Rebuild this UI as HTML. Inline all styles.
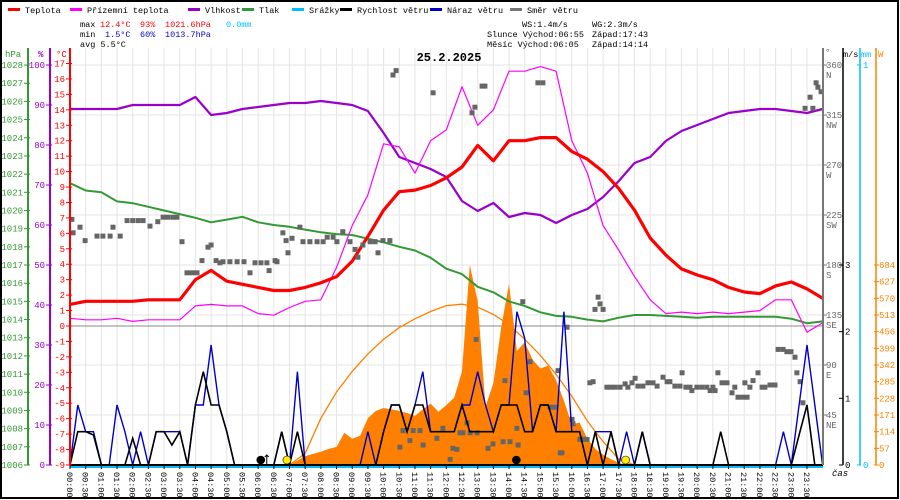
<!DOCTYPE html>
<html><head><meta charset="utf-8"><style>
html,body{margin:0;padding:0;background:#fff;}
svg{display:block;font-family:"Liberation Mono",monospace;}
</style></head><body>
<svg id="c" width="900" height="500" viewBox="0 0 900 500"></svg>
<script>
// ---- data (half-hour resolution, 00:00..24:00) ----
const temperature=[1.4,1.6,1.6,1.6,1.6,1.7,1.7,1.7,3.0,3.6,2.9,2.7,2.5,2.3,2.3,2.5,2.8,3.2,4.2,5.8,7.5,8.7,8.8,9.1,9.6,10.3,11.7,10.7,12.0,12.0,12.2,12.2,11.3,10.8,10.0,8.9,7.5,5.7,4.6,3.7,3.3,3.0,2.5,2.2,2.1,2.6,2.85,2.4,1.8];
const feelsLike=[0.5,0.4,0.4,0.5,0.3,0.4,0.4,0.4,1.3,1.4,1.3,1.3,0.8,0.7,1.2,1.6,1.7,3.8,6.5,8.5,11.8,11.6,9.9,12.0,12.7,15.5,13.0,14.0,16.5,16.5,16.8,16.5,12.0,9.9,6.5,4.9,3.2,1.7,0.8,0.9,0.8,0.9,0.8,0.9,1.0,1.7,1.7,-0.4,0.2];
const humidity=[89,89,89,89,90,90,90,90,92,87.5,88,89,89.5,90,90.5,90.5,91,90.5,90,88.5,83,77,75.5,74,72,66,63.5,65.5,62,63,62.5,60.5,62.5,64,67,71,75.5,77,81,83.5,85,86.5,88,88.5,89,89,88.5,88,89];
const pressure=[1021.5,1021.1,1021.0,1020.5,1020.4,1020.2,1020.0,1019.8,1019.6,1019.35,1019.5,1019.65,1019.35,1019.2,1019.1,1018.95,1018.8,1018.7,1018.65,1018.45,1018.25,1018.0,1017.8,1017.4,1016.8,1016.5,1015.8,1015.5,1015.0,1014.75,1014.4,1014.2,1014.15,1014.0,1013.9,1014.1,1014.25,1014.25,1014.2,1014.15,1014.1,1014.15,1014.15,1014.15,1014.15,1014.15,1014.05,1013.8,1013.9];
// theoretical sun radiation (W/m2), half-hours from index 14 (07:00) to 36 (18:00)
const sunStart=14;
const sunTheory=[0,40,160,250,320,380,430,470,500,525,545,550,540,515,480,430,375,310,235,150,80,20,0];
// measured radiation (W/m2), quarter-hours from index 28 (07:00)
const radStart=28;
const radiation=[0,15,30,38,45,55,62,110,90,100,160,185,195,190,185,178,168,190,210,182,205,230,320,684,560,200,280,470,620,390,420,360,330,340,290,220,140,145,90,55,35,20,8,0];
// wind (m/s), quarter-hours 00:00..24:00
const windSpeed=[0,0.5,0.5,0.45,0,0,0,0,0.4,0,0,0.5,0.5,0.3,0.5,0,0.9,1.4,0.9,0.9,0.5,0,0,0,0,0,0,0.5,0,0.5,0,0,0,0,0,0,0,0,0,0,0.5,0.9,0.9,0.5,0.9,0.9,0.5,0.5,0.5,0.5,0.9,0.5,0.5,0.5,0.5,0.9,0.9,0.9,0.5,0.5,0.9,0.9,0.5,0.5,0.5,0.5,0,0.5,0,0.5,0,0,0,0.5,0,0,0,0,0,0,0,0,0,0.5,0,0,0,0,0,0,0,0,0,0.45,0.9,0,0];
const windGust=[0,0.9,0.5,0.5,0,0,0.9,0.5,0,0.5,0,0.5,0.5,0.5,0.5,0,0.9,0.9,1.8,0.9,0.5,0,0,0,0,0,0,0.5,0,1.4,0,0,0,0,0,0,0,0,0.5,0,0.5,0.9,0.9,0.5,0.9,1.4,0.5,0.5,0.5,0.5,0.9,0.9,1.4,0.9,0.5,0.9,0.9,2.3,1.9,0.5,0.9,0.9,0.5,2.3,0.5,0.5,0,0.5,0.5,0.5,0,0.5,0,0.5,0,0,0,0,0,0,0,0,0,0,0,0,0,0,0,0,0,0.5,0,0.9,1.8,0.9,0];
// wind direction samples
const dirTime=[0.06,0.1,0.32,0.48,0.86,1.05,1.28,1.37,1.6,1.82,2.0,2.17,2.33,2.55,2.8,2.97,3.12,3.28,3.41,3.57,3.73,3.89,4.05,4.21,4.4,4.5,4.66,4.78,4.88,5.1,5.33,5.55,5.74,5.9,6.09,6.28,6.35,6.54,6.6,6.79,6.89,6.95,7.08,7.33,7.43,7.65,7.88,8.07,8.2,8.39,8.51,8.7,8.93,9.09,9.18,9.34,9.57,9.73,9.82,9.98,10.2,10.3,10.4,10.52,10.62,10.84,10.94,11.16,11.26,11.58,11.7,11.89,12.12,12.21,12.34,12.44,12.53,12.66,12.76,12.82,12.91,12.95,12.98,13.14,13.23,13.33,13.49,13.81,13.87,14.03,14.25,14.29,14.44,14.54,14.67,14.92,15.08,15.31,15.46,15.56,15.63,15.69,15.85,16.01,16.04,16.26,16.36,16.49,16.58,16.68,16.74,16.84,16.9,17.0,17.12,17.25,17.38,17.54,17.7,17.79,17.92,18.02,18.11,18.27,18.43,18.59,18.72,18.91,19.04,19.13,19.29,19.45,19.52,19.64,19.77,19.83,19.99,20.15,20.31,20.41,20.5,20.57,20.66,20.79,20.95,21.11,21.2,21.3,21.46,21.52,21.59,21.68,21.78,21.94,22.07,22.16,22.32,22.48,22.58,22.74,22.86,22.99,23.12,23.18,23.28,23.37,23.44,23.6,23.69,23.79,23.85,23.95];
const dirDeg=[221,209,214,202,206,206,206,214,206,220,220,220,220,215,219,223,223,223,223,201,173,173,173,184,196,198,184,182,183,183,183,183,173,182,182,182,175,184,183,209,202,191,204,214,201,201,201,201,205,205,201,210,201,194,187,198,201,201,191,202,202,351,355,16,31,22,31,31,18,335,24,33,5,15,14,29,29,38,29,317,322,113,29,341,341,15,19,21,76,21,33,18,147,65,93,344,344,52,52,85,11,11,124,41,37,23,23,23,74,75,140,151,145,140,70,70,70,70,73,70,74,78,71,71,74,74,71,79,75,75,71,71,83,70,70,67,70,70,70,67,70,67,83,74,74,65,70,61,61,74,61,70,76,83,70,70,72,72,104,104,102,102,97,83,75,56,321,331,321,344,340,336];
const hpaTicks=[1006,1007,1008,1009,1010,1011,1012,1013,1014,1015,1016,1017,1018,1019,1020,1021,1022,1023,1024,1025,1026,1027,1028];
const humTicks=[0,10,20,30,40,50,60,70,80,90,100];
const tempTicks=[-9,-8,-7,-6,-5,-4,-3,-2,-1,0,1,2,3,4,5,6,7,8,9,10,11,12,13,14,15,16,17];
const dirTicks=[45,90,135,180,225,270,315,360];
const dirNames=["NE","E","SE","S","SW","W","NW","N"];
const msTicks=[0,1,2,3];
const wTicks=[0,57,114,171,228,285,342,399,456,513,570,627,684];

// ---- scales ----
const X0=70, HW=31.36, YB=465;
const xH=h=>X0+h*HW;
const yT=t=>326-t*15.44;
const yP=p=>YB-(p-1006)*18.18;
const yHu=h=>YB-h*4;
const yW=w=>YB-w*200/684;
const yV=v=>YB-v*66.67;
const yD=d=>YB-d*1.1111;

const svg=document.getElementById('c');
const NS='http://www.w3.org/2000/svg';
function mk(tag,attrs,parent){const e=document.createElementNS(NS,tag);for(const k in attrs)e.setAttribute(k,attrs[k]);(parent||svg).appendChild(e);return e;}
function txt(s,x,y,fill,size,anchor,weight,parent){const e=mk('text',{x:x,y:y,fill:fill,'font-size':size||9,'text-anchor':anchor||'start','font-weight':weight||'normal'},parent);e.textContent=s;return e;}

// border
let b=mk('rect',{x:1,y:1,width:897,height:497,fill:'#fff',stroke:'#000','stroke-width':2});



// grid
const grid=mk('g',{});


for(let i=1;i<=48;i++){mk('line',{x1:xH(i/2),y1:48,x2:xH(i/2),y2:YB,stroke:'#e4e4e4','stroke-width':1},grid);}
for(let d=45;d<=360;d+=45){mk('line',{x1:X0,y1:yD(d),x2:823,y2:yD(d),stroke:'#e4e4e4','stroke-width':1},grid);}
mk('line',{x1:X0,y1:yT(0),x2:823,y2:yT(0),stroke:'#888','stroke-width':1},grid);

// radiation fill
let rp='M'+xH(radStart/4)+','+YB;
radiation.forEach((v,i)=>{rp+=' L'+xH((radStart+i)/4).toFixed(1)+','+yW(v).toFixed(1);});
rp+=' L'+xH((radStart+radiation.length-1)/4)+','+YB+' Z';
const rad=mk('path',{d:rp,fill:'#ff8000'});



// sun theory
const sp=sunTheory.map((v,i)=>xH((sunStart+i)/2).toFixed(1)+','+yW(v).toFixed(1)).join(' ');
const sun=mk('polyline',{points:sp,fill:'none',stroke:'#ff8000','stroke-width':1.3});



function line(arr,ys,color,w,name){const p=arr.map((v,i)=>xH(i/2).toFixed(1)+','+ys(v).toFixed(1)).join(' ');const e=mk('polyline',{points:p,fill:'none',stroke:color,'stroke-width':w,'stroke-linejoin':'round'});return e;}
let e;
e=line(pressure,yP,'#339933',2);


e=line(humidity,yHu,'#9900cc',2.2);


e=line(feelsLike,yT,'#ff00ff',1.2);


e=line(temperature,yT,'#ff0000',3.2);



// wind direction
const dg=mk('g',{fill:'#666'});


dirTime.forEach((t,i)=>{const r=mk('rect',{x:(xH(t)-2.5).toFixed(1),y:(yD(dirDeg[i])-2.5).toFixed(1),width:5,height:5},dg);});

// wind lines
function wline(arr,color,w){const p=arr.map((v,i)=>xH(i/4).toFixed(1)+','+yV(v).toFixed(1)).join(' ');return mk('polyline',{points:p,fill:'none',stroke:color,'stroke-width':w});}
e=wline(windGust,'#0000cc',1.4);


e=wline(windSpeed,'#000',1.6);



// bottom axis / rain
mk('line',{x1:X0,y1:YB+2,x2:823,y2:YB+2,stroke:'#00bfff','stroke-width':2});
e=mk('line',{x1:X0,y1:YB,x2:823,y2:YB,stroke:'#000','stroke-width':2});



// sun/moon markers
function dot(h,fill,name){const c=mk('circle',{cx:xH(h),cy:460,r:4,fill:fill,stroke:'#000','stroke-width':0.6});}
dot(6+5/60,'#000','moonrise-marker');
dot(6+55/60,'#ffee00','sunrise-marker');
dot(14+14/60,'#000','moonset-marker');
dot(17+43/60,'#ffee00','sunset-marker');
mk('path',{d:'M'+(xH(6+5/60)+6)+',464 V455 M'+(xH(6+5/60)+4)+',457 L'+(xH(6+5/60)+6)+',455 L'+(xH(6+5/60)+8)+',457',stroke:'#000','stroke-width':1,fill:'none'});

// x labels
const xl=mk('g',{});


for(let i=0;i<48;i++){const h=Math.floor(i/2),m=i%2?'30':'00';const s=(h<10?'0':'')+h+':'+m;const x=xH(i/2);
 mk('line',{x1:x,y1:YB,x2:x,y2:YB+4,stroke:'#000','stroke-width':1},xl);
 const t=txt(s,0,0,'#000',8.5,'start','normal',xl);t.setAttribute('transform','translate('+(x-3)+',472) rotate(90)');}
txt('čas',832,476,'#000',9,'start','normal').setAttribute('font-style','italic');

// left axes
function vaxis(x,y1,color,ticks,ys,name,fmt){const g=mk('g',{});
 mk('line',{x1:x,y1:y1,x2:x,y2:YB,stroke:color,'stroke-width':2},g);
 ticks.forEach(v=>{const y=ys(v);mk('line',{x1:x-4,y1:y,x2:x+2,y2:y,stroke:color,'stroke-width':1},g);txt(fmt?fmt(v):String(v),x-5,y+3,color,9,'end','normal',g);});return g;}
vaxis(28,48,'#339933',hpaTicks,yP,'pressure-axis');
vaxis(50,48,'#9900cc',humTicks,yHu,'humidity-axis');
vaxis(70,48,'#ff0000',tempTicks,yT,'temperature-axis');
txt('hPa',5,57,'#339933',9);
txt('%',38,57,'#9900cc',9,'start','bold');
txt('°C',56,57,'#ff0000',9);

// right axes
const rg=mk('g',{});


mk('line',{x1:823,y1:48,x2:823,y2:YB,stroke:'#777','stroke-width':2},rg);
dirTicks.forEach((d,i)=>{const y=yD(d);mk('line',{x1:823,y1:y,x2:827,y2:y,stroke:'#777'},rg);txt(String(d),826,y+3,'#666',9,'start','normal',rg);txt(dirNames[i],826,y+13,'#666',9,'start','normal',rg);});
txt('°',825,55,'#666',9);
const mg=mk('g',{});


mk('line',{x1:843,y1:48,x2:843,y2:YB,stroke:'#000','stroke-width':1.5},mg);
msTicks.forEach(v=>{const y=yV(v);mk('line',{x1:839,y1:y,x2:843,y2:y,stroke:'#000'},mg);txt(String(v),845,y+3,'#000',9,'start','normal',mg);});
txt('m/s',843,57,'#000',8.5);
const cg=mk('g',{});


mk('line',{x1:860,y1:48,x2:860,y2:YB,stroke:'#00bfff','stroke-width':1.5},cg);
[[0,YB],[1,65]].forEach(a=>{mk('line',{x1:857,y1:a[1],x2:861,y2:a[1],stroke:'#00bfff'},cg);txt(String(a[0]),863,a[1]+3,'#00bfff',9,'start','normal',cg);});
txt('mm',861,57,'#00bfff',8.5);
const og=mk('g',{});


mk('line',{x1:876,y1:48,x2:876,y2:YB,stroke:'#ff8000','stroke-width':1.5},og);
wTicks.forEach(v=>{const y=yW(v);mk('line',{x1:874,y1:y,x2:879,y2:y,stroke:'#ff8000'},og);txt(String(v),879,y+3,'#ff8000',9,'start','normal',og);});
txt('W',878,57,'#ff8000',9);

// legend
const lg=mk('g',{});


[['Teplota','#ff0000',8],['Přízemní teplota','#ff00ff',70],['Vlhkost','#9900cc',188],['Tlak','#339933',242],['Srážky','#00bfff',292],['Rychlost větru','#000',340],['Náraz větru','#0000cc',430],['Směr větru','#777',510]].forEach(a=>{
 const g=mk('g',{},lg);
 mk('rect',{x:a[2],y:8,width:12,height:3,fill:a[1]},g);txt(a[0],a[2]+17,13,'#000',8.5,'start','normal',g);});

// stats
txt('max',80,27,'#000',8.5);txt('12.4°C',100,27,'#ff0000',8.5);txt('93%',140,27,'#ff0000',8.5);txt('1021.6hPa',165,27,'#ff0000',8.5);txt('0.0mm',226,27,'#00bfff',8.5);
txt('min',80,37,'#000',8.5);txt('1.5°C',105,37,'#0000cc',8.5);txt('60%',140,37,'#0000cc',8.5);txt('1013.7hPa',165,37,'#0000cc',8.5);
txt('avg  5.5°C',80,47,'#000',8.5);
txt('WS:1.4m/s',522,27,'#000',8.5);txt('WG:2.3m/s',592,27,'#000',8.5);
txt('Slunce Východ:06:55',487,37,'#000',8.5);txt('Západ:17:43',592,37,'#000',8.5);
txt('Měsíc  Východ:06:05',487,47,'#000',8.5);txt('Západ:14:14',592,47,'#000',8.5);
const ti=txt('25.2.2025',449,61,'#000',12,'middle','bold');


</script>
</body></html>
